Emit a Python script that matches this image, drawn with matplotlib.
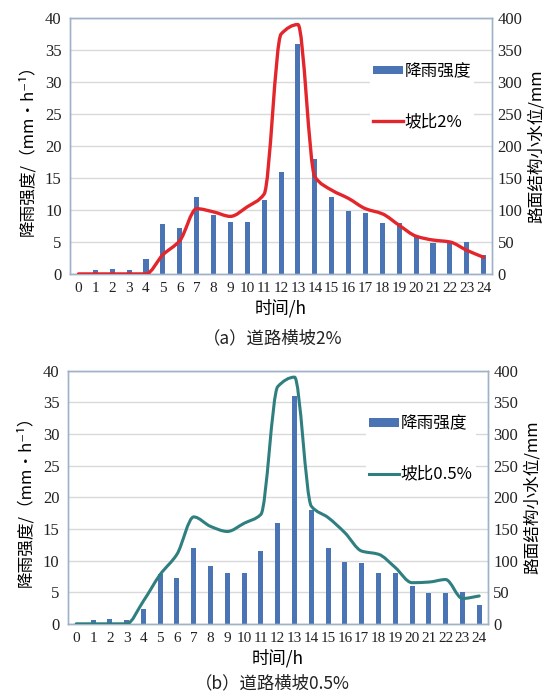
import numpy as np
import matplotlib.pyplot as plt
from matplotlib.path import Path
from matplotlib.patches import PathPatch
from matplotlib.lines import Line2D

CJK = ["Noto Sans CJK SC", "DejaVu Sans"]
SERIF = ["Liberation Serif", "DejaVu Serif"]

hours = list(range(25))
hour_labels = [str(h) for h in hours]

# rainfall intensity, mm/h (same storm for both panels)
rain = [0, 0.6, 0.8, 0.6, 2.3, 7.8, 7.2, 12.0, 9.2, 8.1, 8.1, 11.5, 16.0,
        36.0, 18.0, 12.0, 9.8, 9.6, 8.0, 8.0, 6.0, 4.8, 4.8, 5.0, 2.9]

# water level in pavement structure, mm
level_2pct = [0, 0, 0, 0, 0, 30, 52, 102, 97, 90, 105, 125, 375,
              390, 152, 131, 118, 102, 94, 76, 59, 53, 50, 37, 26]
level_05pct = [0, 0, 0, 0, 36, 78, 110, 169, 154, 146, 159, 173, 375,
               390, 186, 168, 144, 115, 110, 89, 65, 66, 70, 40, 44]

BAR_COLOR = "#4a74b4"
FRAME = "#9fb2c8"


def smooth_path(x, y):
    # smoothed line without overshoot: monotone (fritsch-carlson) tangents,
    # each hermite piece written as a cubic bezier
    x = np.asarray(x, float)
    y = np.asarray(y, float)
    h = np.diff(x)
    d = np.diff(y) / h
    m = np.zeros_like(y)
    m[0], m[-1] = d[0], d[-1]
    for i in range(1, len(y) - 1):
        if d[i - 1] * d[i] > 0:
            m[i] = 2 * d[i - 1] * d[i] / (d[i - 1] + d[i])
    verts = [(x[0], y[0])]
    codes = [Path.MOVETO]
    for i in range(len(y) - 1):
        verts += [(x[i] + h[i] / 3, y[i] + m[i] * h[i] / 3),
                  (x[i + 1] - h[i] / 3, y[i + 1] - m[i + 1] * h[i] / 3),
                  (x[i + 1], y[i + 1])]
        codes += [Path.CURVE4] * 3
    return Path(verts, codes)


def draw_panel(fig, rect, levels, color, lw, label, caption, cap_y, leg_anchor):
    ax = fig.add_axes(rect)
    ax2 = ax.twinx()
    x = np.arange(len(hours))

    bars = ax.bar(x, rain, width=0.3, color=BAR_COLOR, zorder=2)
    ax.set_xlim(-0.5, 24.5)
    ax.set_ylim(0, 40)
    ax.set_yticks(range(0, 41, 5))
    ax.set_xticks(x)
    ax.set_xticklabels(hour_labels)
    ax.yaxis.grid(True, color="#d9d9d9", lw=1.0)
    ax.set_axisbelow(True)

    ax2.add_patch(PathPatch(smooth_path(x, levels), fill=False,
                            edgecolor=color, lw=lw, zorder=3,
                            capstyle="round", joinstyle="round"))
    ax2.set_ylim(0, 400)
    ax2.set_yticks(range(0, 401, 50))

    for a in (ax, ax2):
        a.tick_params(length=0, labelsize=12, colors="#222222")
        for lab in a.get_xticklabels() + a.get_yticklabels():
            lab.set_family(SERIF)
        for s in a.spines.values():
            s.set_color(FRAME)
            s.set_linewidth(1.0)
    ax.tick_params(axis="x", labelsize=11, pad=6)
    ax.tick_params(axis="y", pad=6)
    ax2.tick_params(axis="y", pad=4)

    ax.set_ylabel("降雨强度/（mm•h⁻¹）", family=CJK, fontsize=12, labelpad=6)
    ax2.set_ylabel("路面结构小水位/mm", family=CJK, fontsize=12,
                   rotation=90, labelpad=4)
    ax.set_xlabel("时间/h", family=CJK, fontsize=12.5, labelpad=3)

    handles = [bars, Line2D([], [], color=color, lw=lw)]
    leg = ax2.legend(handles, ["降雨强度", label], loc="upper left",
                     bbox_to_anchor=leg_anchor, prop={"family": CJK, "size": 12},
                     frameon=True, framealpha=1.0, edgecolor="white",
                     fancybox=False, handlelength=1.8, handleheight=0.4,
                     handletextpad=0.1, labelspacing=2.0, borderpad=0.2)
    leg.get_frame().set_linewidth(0)

    fig.text(0.49, cap_y, caption, family=CJK, fontsize=12.5, ha="center",
             va="center", color="#222222")
    return ax, ax2


fig = plt.figure(figsize=(5.56, 6.97), dpi=100)
fig.patch.set_facecolor("white")

draw_panel(fig, [0.126, 0.607, 0.759, 0.367], level_2pct, "#e3262b", 2.4,
           "坡比2%", "（a）道路横坡2%", 1 - 338 / 697, (0.69, 0.87))
draw_panel(fig, [0.122, 0.105, 0.755, 0.363], level_05pct, "#2f7f80", 2.2,
           "坡比0.5%", "（b）道路横坡0.5%", 1 - 683 / 697, (0.69, 0.87))

fig.savefig("out.png", dpi=100)
